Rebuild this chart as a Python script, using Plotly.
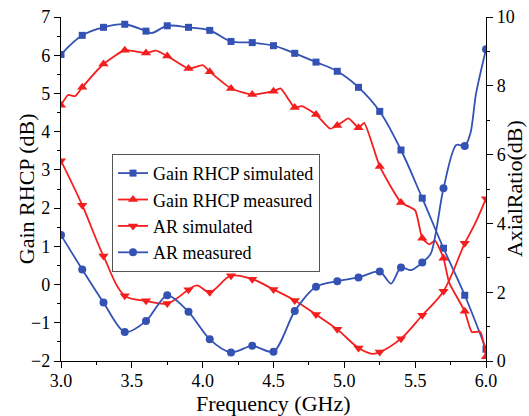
import plotly.graph_objects as go

# ---------------- data ----------------
freq_marks = [3.0, 3.15, 3.3, 3.45, 3.6, 3.75, 3.9, 4.05, 4.2, 4.35, 4.5,
              4.65, 4.8, 4.95, 5.1, 5.25, 5.4, 5.55, 5.7, 5.85, 6.0]

gain_sim = [6.02, 6.52, 6.73, 6.81, 6.63, 6.77, 6.73, 6.65, 6.36, 6.33, 6.25,
            6.05, 5.82, 5.58, 5.16, 4.53, 3.52, 2.26, 0.95, -0.28, -1.69]
gain_sim_extra_f = [3.64]
gain_sim_extra_v = [6.58]

gain_meas = [4.69, 5.16, 5.77, 6.13, 6.06, 5.98, 5.65, 5.57, 5.13, 4.97, 5.06,
             4.63, 4.45, 4.16, 4.10, 3.09, 2.15, 1.21, 0.69, -0.70, -1.89]
gain_meas_extra_f = [3.05, 3.10, 3.67, 4.00, 4.55, 4.70, 4.90, 5.03, 5.14,
                     5.50, 5.60, 5.64, 5.74, 5.90, 5.96]
gain_meas_extra_v = [4.96, 4.93, 6.12, 5.74, 5.13, 4.67, 4.08, 4.35, 4.23,
                     1.94, 1.05, 1.15, 0.05, -1.24, -1.24]

ar_sim = [5.82, 4.53, 3.05, 1.90, 1.75, 1.67, 2.07, 2.00, 2.48, 2.38, 2.08,
          1.76, 1.35, 0.92, 0.38, 0.26, 0.65, 1.33, 2.03, 3.42, 4.72]
ar_sim_extra_f = [3.96, 5.20, 5.92]
ar_sim_extra_v = [2.20, 0.21, 3.97]

ar_meas = [3.66, 2.66, 1.70, 0.84, 1.16, 1.91, 1.43, 0.63, 0.25, 0.44, 0.27,
           1.45, 2.16, 2.32, 2.43, 2.60, 2.72, 2.86, 5.02, 6.25, 9.06]
ar_meas_extra_f = [5.33, 5.47, 5.61, 5.79, 5.89, 5.93]
ar_meas_extra_v = [2.25, 2.64, 3.12, 6.28, 6.62, 7.78]

names = ["Gain RHCP simulated", "Gain RHCP measured", "AR simulated", "AR measured"]
x_title = "Frequency (GHz)"
y_title = "Gain RHCP (dB)"
y2_title = "AxialRatio(dB)"

BLUE = "#3352B3"
RED = "#F51E1E"
FONT = "Times New Roman, Liberation Serif, DejaVu Serif, serif"


def merged(fm, vm, fe, ve):
    pts = sorted(list(zip(fm, vm)) + list(zip(fe, ve)))
    return [p[0] for p in pts], [p[1] for p in pts]


series = [
    (names[0], gain_sim, gain_sim_extra_f, gain_sim_extra_v, BLUE, "square", 7, "y", 1.0),
    (names[1], gain_meas, gain_meas_extra_f, gain_meas_extra_v, RED, "triangle-up", 9, "y", 0.5),
    (names[2], ar_sim, ar_sim_extra_f, ar_sim_extra_v, RED, "triangle-down", 9, "y2", 1.0),
    (names[3], ar_meas, ar_meas_extra_f, ar_meas_extra_v, BLUE, "circle", 8, "y2", 0.8),
]

fig = go.Figure()
for name, vals, ef, ev, col, sym, ms, ax, sm in series:
    lf, lv = merged(freq_marks, vals, ef, ev)
    fig.add_trace(go.Scatter(x=lf, y=lv, mode="lines", yaxis=ax, showlegend=False,
                             line=dict(color=col, width=1.8, shape="spline", smoothing=sm),
                             hoverinfo="skip"))
    fig.add_trace(go.Scatter(x=freq_marks, y=vals, mode="markers", yaxis=ax, showlegend=False,
                             marker=dict(symbol=sym, size=ms, color=col)))
# legend entries
for name, vals, ef, ev, col, sym, ms, ax, sm in series:
    fig.add_trace(go.Scatter(x=[None], y=[None], mode="lines+markers", name=name, yaxis=ax,
                             line=dict(color=col, width=1.8),
                             marker=dict(symbol=sym, size=ms, color=col)))

axis_common = dict(showline=True, linecolor="black", linewidth=1.3, ticks="outside",
                   ticklen=6, tickwidth=1.2, tickcolor="black", showgrid=False, zeroline=False,
                   automargin=False,
                   tickfont=dict(family=FONT, size=18, color="black"))

fig.update_layout(
    width=529, height=416,
    margin=dict(l=61, r=43, t=17, b=55, autoexpand=False),
    paper_bgcolor="white", plot_bgcolor="white",
    font=dict(family=FONT, size=18, color="black"),
    xaxis=dict(range=[3, 6], dtick=0.5, tickformat=".1f", ticklabelstandoff=-3,
               minor=dict(dtick=0.25, ticklen=3, ticks="outside", tickcolor="black"),
               **axis_common),
    yaxis=dict(range=[-2, 7], dtick=1,
               minor=dict(dtick=0.5, ticklen=3, ticks="outside", tickcolor="black"),
               **axis_common),
    yaxis2=dict(range=[0, 10], dtick=2, overlaying="y", side="right",
                minor=dict(dtick=1, ticklen=3, ticks="outside", tickcolor="black"),
                **axis_common),
    legend=dict(x=0.12, y=0.602, xanchor="left", yanchor="top",
                bgcolor="white", bordercolor="#555555", borderwidth=1,
                font=dict(family=FONT, size=18, color="black"),
                tracegroupgap=0, itemwidth=30),
    annotations=[
        dict(text=x_title, xref="paper", yref="paper", x=0.5, y=-0.124,
             xanchor="center", yanchor="middle", showarrow=False,
             font=dict(family=FONT, size=22, color="black")),
        dict(text=y_title, xref="paper", yref="paper", x=-0.082, y=0.5, textangle=-90,
             xanchor="center", yanchor="middle", showarrow=False,
             font=dict(family=FONT, size=22, color="black")),
        dict(text=y2_title, xref="paper", yref="paper", x=1.066, y=0.5, textangle=-90,
             xanchor="center", yanchor="middle", showarrow=False,
             font=dict(family=FONT, size=22, color="black")),
    ],
)

fig.write_html("out.html")
